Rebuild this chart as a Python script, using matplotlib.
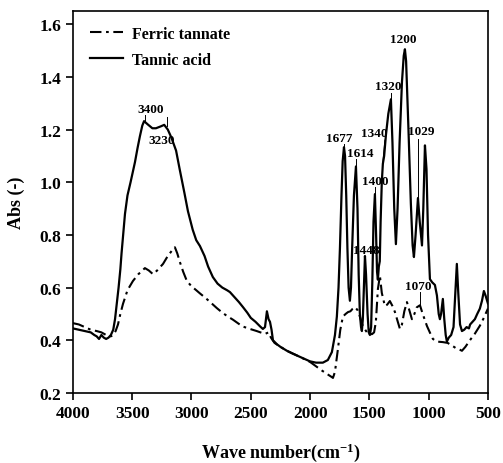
import matplotlib
matplotlib.use("Agg")
import matplotlib.pyplot as plt

plt.rcParams['font.family'] = ['Liberation Serif', 'DejaVu Serif']
plt.rcParams['font.weight'] = 'bold'
plt.rcParams['mathtext.fontset'] = 'custom'
plt.rcParams['mathtext.rm'] = 'Liberation Serif:bold'
plt.rcParams['mathtext.bf'] = 'Liberation Serif:bold'
plt.rcParams['mathtext.it'] = 'Liberation Serif:bold:italic'

# Tannic acid spectrum (wavenumber, absorbance)
ta_wn = [4000, 3950, 3900, 3850, 3820, 3800, 3780, 3760, 3740, 3720, 3700, 3680, 3660, 3645,
         3630, 3615, 3600, 3590, 3575, 3561, 3540, 3514, 3495, 3477, 3455, 3435, 3415, 3400, 3370, 3330, 3300, 3260,
         3230, 3200, 3170, 3130, 3100, 3060, 3030, 2990, 2960, 2929, 2890, 2860, 2820, 2780,
         2740, 2700, 2676, 2640, 2600, 2566, 2530, 2500, 2460, 2420, 2398, 2380, 2364, 2350,
         2338, 2325, 2313, 2280, 2250, 2195, 2150, 2100, 2050, 2001, 1950, 1892, 1850, 1816,
         1790, 1774, 1760, 1748, 1735, 1725, 1714, 1705, 1695, 1685, 1675, 1664, 1655, 1645,
         1630, 1613, 1600, 1590, 1580, 1570, 1563, 1555, 1545, 1537, 1528, 1515, 1505, 1495,
         1485, 1475, 1465, 1453, 1443, 1435, 1428, 1420, 1412, 1405, 1395, 1386, 1375, 1360,
         1340, 1318, 1305, 1290, 1276, 1262, 1245, 1225, 1210, 1200, 1190, 1170, 1150, 1135,
         1124, 1110, 1090, 1075, 1056, 1045, 1031, 1018, 1005, 989, 970, 947, 930, 915, 905,
         895, 880, 868, 856, 846, 830, 810, 790, 775, 762, 750, 735, 719, 700, 680, 660, 650,
         630, 610, 590, 568, 550, 534, 520, 500]
ta_abs = [0.445, 0.44, 0.435, 0.43, 0.42, 0.415, 0.405, 0.42, 0.41, 0.405, 0.41, 0.42, 0.44, 0.48,
          0.54, 0.60, 0.67, 0.73, 0.81, 0.88, 0.95, 1.00, 1.04, 1.076, 1.13, 1.175, 1.215, 1.232, 1.22, 1.205, 1.205, 1.212,
          1.218, 1.20, 1.17, 1.12, 1.05, 0.96, 0.89, 0.82, 0.78, 0.758, 0.72, 0.68, 0.64, 0.615,
          0.60, 0.59, 0.583, 0.565, 0.545, 0.526, 0.505, 0.485, 0.47, 0.452, 0.443, 0.45, 0.51, 0.48,
          0.47, 0.44, 0.40, 0.385, 0.375, 0.36, 0.35, 0.34, 0.33, 0.32, 0.315, 0.315, 0.325, 0.355,
          0.42, 0.49, 0.60, 0.75, 0.95, 1.08, 1.133, 1.10, 0.95, 0.75, 0.60, 0.55, 0.60, 0.75,
          0.95, 1.06, 0.90, 0.65, 0.50, 0.45, 0.435, 0.48, 0.62, 0.72, 0.65, 0.50, 0.43, 0.42,
          0.45, 0.62, 0.85, 0.955, 0.80, 0.66, 0.63, 0.68, 0.70, 0.85, 1.00, 1.07, 1.10, 1.18,
          1.26, 1.315, 1.15, 0.90, 0.765, 0.90, 1.15, 1.38, 1.48, 1.505, 1.46, 1.20, 0.92, 0.76,
          0.716, 0.80, 0.94, 0.85, 0.76, 0.90, 1.14, 1.05, 0.80, 0.632, 0.62, 0.61, 0.57, 0.50, 0.48,
          0.50, 0.557, 0.48, 0.42, 0.395, 0.41, 0.42, 0.45, 0.58, 0.69, 0.58, 0.46, 0.435, 0.44, 0.45, 0.445, 0.46,
          0.47, 0.48, 0.50, 0.52, 0.55, 0.587, 0.57, 0.54]

# Ferric tannate spectrum
ft_wn = [4000, 3950, 3900, 3850, 3800, 3760, 3720, 3700, 3680, 3660, 3640, 3620, 3600, 3578,
         3540, 3494, 3450, 3393, 3360, 3325, 3290, 3240, 3200, 3157, 3140, 3120, 3098, 3070,
         3039, 3000, 2960, 2929, 2880, 2830, 2786, 2740, 2700, 2650, 2600, 2566, 2507, 2450,
         2381, 2350, 2330, 2300, 2250, 2195, 2100, 2001, 1946, 1900, 1850, 1816, 1807, 1790,
         1765, 1745, 1723, 1700, 1680, 1660, 1640, 1622, 1600, 1580, 1560, 1540, 1520, 1500,
         1478, 1460, 1445, 1428, 1411, 1395, 1369, 1350, 1327, 1305, 1284, 1260, 1242, 1225,
         1205, 1183, 1160, 1141, 1120, 1100, 1073, 1050, 1014, 990, 964, 930, 880, 840, 803,
         770, 740, 719, 690, 652, 610, 568, 540, 520, 500]
ft_abs = [0.465, 0.46, 0.45, 0.44, 0.435, 0.43, 0.42, 0.415, 0.415, 0.42, 0.435, 0.46, 0.50, 0.538,
          0.59, 0.625, 0.65, 0.674, 0.665, 0.651, 0.665, 0.69, 0.72, 0.745, 0.753, 0.73, 0.697, 0.66,
          0.625, 0.605, 0.59, 0.578, 0.56, 0.54, 0.522, 0.505, 0.492, 0.478, 0.462, 0.452, 0.443, 0.435,
          0.424, 0.43, 0.41, 0.39, 0.375, 0.36, 0.34, 0.318, 0.30, 0.285, 0.27, 0.26, 0.257, 0.28,
          0.367, 0.44, 0.49, 0.50, 0.507, 0.51, 0.52, 0.526, 0.515, 0.49, 0.46, 0.443, 0.43, 0.425,
          0.423, 0.43, 0.47, 0.594, 0.645, 0.58, 0.53, 0.535, 0.549, 0.53, 0.507, 0.47, 0.443, 0.46,
          0.51, 0.545, 0.51, 0.48, 0.50, 0.525, 0.533, 0.50, 0.454, 0.43, 0.405, 0.395, 0.393, 0.39, 0.38,
          0.37, 0.365, 0.36, 0.375, 0.40, 0.425, 0.455, 0.48, 0.50, 0.52]

# Peak labels: text, label centre (wn, abs), leader line (wn0, abs0, wn1, abs1) or None
peak_text = ['3400', '3230', '1200', '1320', '1340', '1677', '1614', '1400', '1029', '1448', '1070']
peak_pos = [(3346, 1.277), (3249, 1.160), (1217, 1.543), (1343, 1.365), (1462, 1.186),
            (1751, 1.167), (1579, 1.110), (1453, 1.004), (1065, 1.194), (1523, 0.742), (1085, 0.606)]
peak_lead = [(3393, 1.255, 3393, 1.232), (3207, 1.247, 3207, 1.213), None,
             (1318, 1.338, 1318, 1.315), (1369, 1.160, 1386, 1.076),
             (1714, 1.145, 1714, 1.133), (1613, 1.088, 1613, 1.060),
             (1453, 0.981, 1453, 0.955), (1090, 1.164, 1090, 0.944), None,
             (1073, 0.583, 1073, 0.538)]

x_ticks = [4000, 3500, 3000, 2500, 2000, 1500, 1000, 500]
y_ticks = [0.2, 0.4, 0.6, 0.8, 1.0, 1.2, 1.4, 1.6]

fig = plt.figure(figsize=(5.03, 4.64), dpi=100)
ax = fig.add_axes([0.145, 0.151, 0.825, 0.823])

ax.plot(ft_wn, ft_abs, color='black', lw=1.5, ls=(0, (5.5, 2.2, 1.3, 2.2)), label='Ferric tannate')
ax.plot(ta_wn, ta_abs, color='black', lw=1.6, ls='-', label='Tannic acid')

for t, (px, py), ld in zip(peak_text, peak_pos, peak_lead):
    ax.text(px, py, t, ha='center', va='center', fontsize=9.5, fontweight='bold')
    if ld is not None:
        ax.plot([ld[0], ld[2]], [ld[1], ld[3]], color='black', lw=0.7)

ax.set_xlim(4000, 500)
ax.set_ylim(0.2, 1.65)
ax.set_xticks(x_ticks)
ax.set_yticks(y_ticks)
ax.set_xticklabels([str(v) for v in x_ticks])
ax.set_yticklabels([f'{v:.1f}' for v in y_ticks])
ax.tick_params(direction='out', length=5, width=1.2, labelsize=12.5)
for s in ax.spines.values():
    s.set_linewidth(1.2)

ax.set_xlabel(r'Wave number(cm$^{-1}$)', fontsize=13, fontweight='bold', labelpad=14)
ax.set_ylabel('Abs (-)', fontsize=13, fontweight='bold', labelpad=10)

leg = ax.legend(loc='upper left', bbox_to_anchor=(0.0255, 0.9775), borderaxespad=0,
                frameon=False, handlelength=2.1, handletextpad=0.55, labelspacing=0.6,
                prop={'weight': 'bold', 'size': 11.5})

fig.savefig('out.png', dpi=100)
